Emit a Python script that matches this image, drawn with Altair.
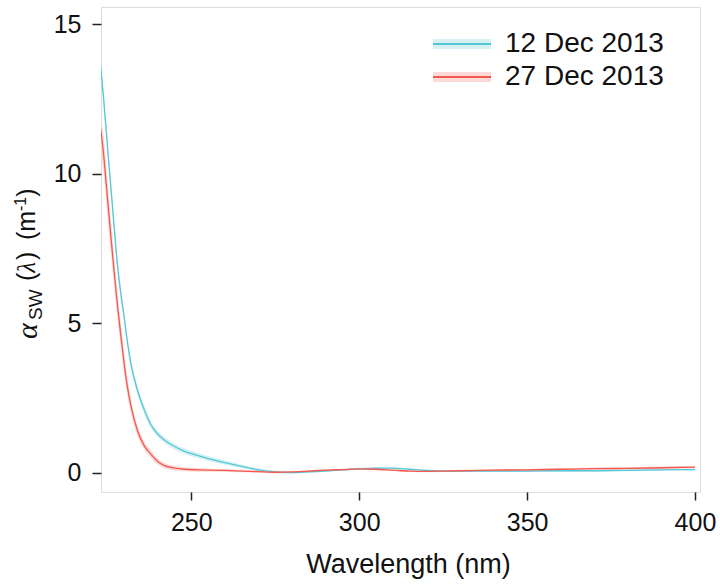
import altair as alt
import pandas as pd

# ---- data ----
wavelength = [223, 224, 225, 226, 227, 228, 229, 230, 231, 232, 234,
              236, 238, 240, 242, 245, 248, 252, 256, 260, 265, 270,
              275, 280, 285, 290, 295, 300, 305, 310, 315, 320, 325, 330,
              340, 350, 360, 370, 380, 390, 400]

dec12 = [13.6, 12.35, 10.95, 9.6, 8.25, 6.95, 6.0, 5.2, 4.35, 3.65, 2.75,
         2.1, 1.6, 1.3, 1.1, 0.88, 0.72, 0.58, 0.45, 0.34, 0.22, 0.1,
         0.03, 0.01, 0.03, 0.06, 0.1, 0.13, 0.16, 0.16, 0.12, 0.08, 0.06, 0.06,
         0.06, 0.06, 0.07, 0.07, 0.08, 0.1, 0.11]

dec27 = [11.5, 10.5, 9.23, 7.95, 6.75, 5.6, 4.6, 3.65, 2.85, 2.25, 1.4,
         0.9, 0.62, 0.38, 0.24, 0.16, 0.12, 0.1, 0.09, 0.08, 0.06, 0.04,
         0.02, 0.03, 0.06, 0.09, 0.11, 0.13, 0.12, 0.09, 0.06, 0.05, 0.06, 0.07,
         0.09, 0.1, 0.12, 0.14, 0.15, 0.17, 0.19]

dec12_se = [0.25, 0.25, 0.25, 0.24, 0.23, 0.22, 0.2, 0.18, 0.17, 0.16, 0.15,
            0.14, 0.12, 0.1, 0.1, 0.1, 0.09, 0.09, 0.08, 0.07, 0.06, 0.05,
            0.04, 0.03, 0.03, 0.03, 0.03, 0.03, 0.03, 0.03, 0.03, 0.03, 0.03, 0.03,
            0.03, 0.03, 0.03, 0.03, 0.03, 0.03, 0.03]

dec27_se = [0.6, 0.6, 0.6, 0.55, 0.5, 0.45, 0.4, 0.35, 0.3, 0.25, 0.18,
            0.14, 0.12, 0.1, 0.09, 0.08, 0.07, 0.06, 0.05, 0.05, 0.04, 0.04,
            0.03, 0.03, 0.03, 0.03, 0.03, 0.03, 0.03, 0.03, 0.03, 0.03, 0.03, 0.03,
            0.03, 0.03, 0.03, 0.04, 0.04, 0.04, 0.04]

series_names = ["12 Dec 2013", "27 Dec 2013"]
line_colors = ["#55C7D6", "#F3574E"]
band_colors = ["#D6F0F4", "#FCDAD7"]

x_ticks = [250, 300, 350, 400]
y_ticks = [0, 5, 10, 15]

rows = []
for name, vals, ses in [(series_names[0], dec12, dec12_se),
                        (series_names[1], dec27, dec27_se)]:
    for w, v, s in zip(wavelength, vals, ses):
        rows.append({"wavelength": w, "value": v, "lower": v - s,
                     "upper": v + s, "series": name, "band": name})
df = pd.DataFrame(rows)

SANS = "Liberation Sans"
SERIF = "Liberation Serif"

x_scale = alt.Scale(domain=[223.1, 401.5], nice=False, zero=False)
y_scale = alt.Scale(domain=[-0.64, 15.57], nice=False, zero=False)

x_enc = alt.X("wavelength:Q", scale=x_scale,
              axis=alt.Axis(values=x_ticks, title="Wavelength (nm)", format="d",
                            domain=False, grid=False, tickSize=8, tickWidth=1.5,
                            tickColor="#222", labelFontSize=25, labelFont=SANS,
                            labelColor="#111", labelPadding=10,
                            titleFont=SANS, titleFontSize=27, titleFontWeight="normal",
                            titleColor="#111", titleX=307, titleY=80,
                            titleBaseline="alphabetic", titleAlign="center"))
y_enc = alt.Y("value:Q", scale=y_scale,
              axis=alt.Axis(values=y_ticks, title=None, format="d",
                            domain=False, grid=False, tickSize=9, tickWidth=1.5,
                            tickColor="#222", labelFontSize=25, labelFont=SANS,
                            labelColor="#111", labelPadding=11))

LEG_X, LEG_Y, ROW_PAD, LBL_OFF, LBL_SIZE = 347, 23, 5, 29, 28

band = alt.Chart(df).mark_area(clip=True, interpolate="monotone").encode(
    x=x_enc,
    y=alt.Y("lower:Q", scale=y_scale),
    y2="upper:Q",
    fill=alt.Fill("band:N",
                  scale=alt.Scale(domain=series_names, range=band_colors),
                  legend=alt.Legend(orient="none", legendX=LEG_X, legendY=LEG_Y,
                                    title=None, padding=0,
                                    symbolType="M-2.9,-0.5H2.9V0.5H-2.9Z",
                                    symbolSize=400, symbolStrokeWidth=0,
                                    labelFontSize=LBL_SIZE, labelFont=SANS,
                                    labelOffset=LBL_OFF, labelOpacity=0,
                                    rowPadding=ROW_PAD, labelLimit=400)),
)

line = alt.Chart(df).mark_line(clip=True, interpolate="monotone", strokeWidth=1.3).encode(
    x=x_enc,
    y=y_enc,
    stroke=alt.Stroke("series:N",
                      scale=alt.Scale(domain=series_names, range=line_colors),
                      legend=alt.Legend(orient="none", legendX=LEG_X, legendY=LEG_Y,
                                        title=None, padding=0,
                                        symbolType="M-2.9,0H2.9",
                                        symbolSize=400, symbolStrokeWidth=2,
                                        labelFontSize=LBL_SIZE, labelFont=SANS,
                                        labelColor="#111",
                                        labelOffset=LBL_OFF,
                                        rowPadding=ROW_PAD, labelLimit=400)),
)

one = pd.DataFrame({"k": [0]})


def label(txt, x, y, size, font=SANS, style="normal"):
    return alt.Chart(one).mark_text(
        text=txt, angle=270, align="left", baseline="alphabetic",
        font=font, fontSize=size, fontStyle=style, color="#111"
    ).encode(x=alt.value(x), y=alt.value(y))


ytitle = [
    label("α", -64, 332, 30, SERIF, "italic"),
    label("SW", -59, 313, 19),
    label("(", -66, 274, 25),
    label("λ", -66, 265.7, 25, SERIF, "italic"),
    label(")", -66, 253, 25),
    label("(m", -66, 233, 25),
    label("-1", -75, 204, 16),
    label(")", -66, 189.8, 25),
]

chart = alt.layer(band, line, *ytitle).resolve_legend(
    fill="independent", stroke="independent"
).properties(
    width=599, height=485,
    padding={"left": 101, "top": 7, "right": 20, "bottom": 94},
    autosize=alt.AutoSizeParams(type="none"),
).configure_view(stroke="#222", strokeWidth=1.5).configure(background="white")

chart.save("out.html", embed_options={"renderer": "svg", "actions": False})
